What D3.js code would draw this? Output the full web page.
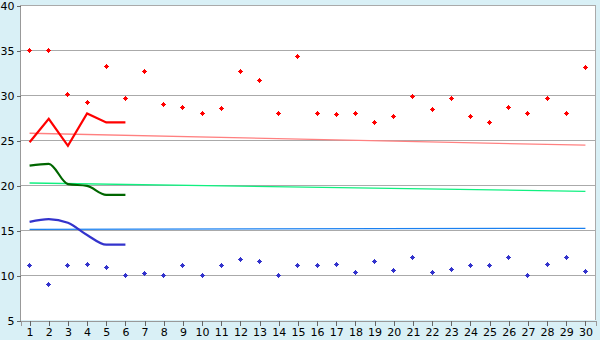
<!DOCTYPE html>
<html><head><meta charset="utf-8">
<script src="https://cdn.jsdelivr.net/npm/d3@7/dist/d3.min.js"></script>
<style>
html,body{margin:0;padding:0;background:#d9f0f6;}
svg{display:block;}
text{font-family:"DejaVu Sans",Verdana,sans-serif;font-size:11px;fill:#000;}
</style></head>
<body>
<svg id="c" width="600" height="340"></svg>
<script>
const categories = d3.range(1, 31);
const yTicks = [5, 10, 15, 20, 25, 30, 35, 40];
const redPoints = [35, 35, 30, 29.2, 33.2, 29.6, 32.6, 29, 28.6, 28, 28.5, 32.6, 31.6, 28, 34.3, 28, 27.85, 28, 27, 27.6, 29.85, 28.4, 29.6, 27.6, 27, 28.6, 28, 29.6, 28, 33];
const bluePoints = [11, 9, 11, 11.2, 10.85, 10, 10.2, 10, 11, 10, 11, 11.75, 11.5, 10, 11, 11, 11.2, 10.3, 11.5, 10.55, 11.95, 10.3, 10.65, 11, 11, 11.95, 10, 11.2, 11.95, 10.4];
const redLine = [24.75, 27.35, 24.35, 27.95, 26.95, 26.95];
const greenLine = [22.15, 22.35, 20.1, 19.9, 18.9, 18.9];
const blueLine = [15.9, 16.2, 15.8, 14.45, 13.37, 13.37];
const pinkTrend = [25.75, 24.42];
const greenTrend = [20.22, 19.3];
const blueTrend = [15.08, 15.19];

const svg = d3.select("#c");
const L = 20, R = 595, T = 5, B = 320;
svg.append("rect").attr("x", L).attr("y", T).attr("width", R - L).attr("height", B - T).attr("fill", "#fff");

const x = d3.scaleBand().domain(categories).range([L, R]);
const cx = d => x(d) + x.bandwidth() / 2;
const y = d3.scaleLinear().domain([5, 40]).range([B, T]);

// grid
svg.append("g").selectAll("line").data(yTicks.filter(v => v > 5)).join("line")
  .attr("x1", L).attr("x2", R).attr("y1", d => y(d) + 0.5).attr("y2", d => y(d) + 0.5)
  .attr("stroke", "#aaaaaa").attr("stroke-width", 1).attr("shape-rendering", "crispEdges");
svg.append("line").attr("x1", R + 0.5).attr("x2", R + 0.5).attr("y1", T).attr("y2", B)
  .attr("stroke", "#aaaaaa").attr("shape-rendering", "crispEdges");

// axes
const ya = svg.append("g").attr("transform", `translate(${L + 0.5},0.5)`)
  .call(d3.axisLeft(y).tickValues(yTicks).tickSize(4).tickPadding(2).tickFormat(d3.format("d")));
const xa = svg.append("g").attr("transform", `translate(0.5,${B + 0.5})`)
  .call(d3.axisBottom(x).tickSize(5).tickPadding(3));
[ya, xa].forEach(a => {
  a.selectAll("path,line").attr("stroke", "#999").attr("shape-rendering", "crispEdges");
  a.selectAll("text").style("font-size", "11px").style("font-family", "DejaVu Sans, Verdana, sans-serif");
});
ya.select(".domain").attr("d", `M0,${B} V${T}`);
ya.selectAll(".tick line").attr("stroke", "#666");
xa.selectAll(".tick line").attr("stroke", "#666");

// trend lines
const trend = (vals, color) => svg.append("line")
  .attr("x1", cx(1)).attr("x2", cx(30)).attr("y1", y(vals[0])).attr("y2", y(vals[1]))
  .attr("stroke", color).attr("stroke-width", 1.3);
trend(pinkTrend, "#ff8080");
trend(greenTrend, "#10f080");
trend(blueTrend, "#1a80f0");

// dark lines
const lineGen = c => d3.line().x((d, i) => cx(categories[i])).y(d => y(d)).curve(c);
svg.append("path").datum(redLine).attr("d", lineGen(d3.curveLinear)).attr("fill", "none").attr("stroke", "#ff0000").attr("stroke-width", 2.2);
svg.append("path").datum(greenLine).attr("d", lineGen(d3.curveMonotoneX)).attr("fill", "none").attr("stroke", "#006600").attr("stroke-width", 2.2);
svg.append("path").datum(blueLine).attr("d", lineGen(d3.curveMonotoneX)).attr("fill", "none").attr("stroke", "#3333cc").attr("stroke-width", 2.2);

// markers: 3x3 centre with 1px arms (5px overall), pixel aligned
const plusMark = { draw(ctx) {
  ctx.moveTo(-1.5, -1.5); ctx.lineTo(1.5, -1.5); ctx.lineTo(1.5, 1.5); ctx.lineTo(-1.5, 1.5); ctx.closePath();
  ctx.moveTo(-2.5, -0.5); ctx.lineTo(2.5, -0.5); ctx.lineTo(2.5, 0.5); ctx.lineTo(-2.5, 0.5); ctx.closePath();
  ctx.moveTo(-0.5, -2.5); ctx.lineTo(0.5, -2.5); ctx.lineTo(0.5, 2.5); ctx.lineTo(-0.5, 2.5); ctx.closePath();
}};
const sym = d3.symbol().type(plusMark);
const pos = (d, i) => `translate(${Math.floor(cx(categories[i])) + 0.5},${Math.floor(y(d)) + 0.5})`;
svg.append("g").selectAll("path").data(redPoints).join("path")
  .attr("transform", pos).attr("d", sym).attr("fill", "#ff0000").attr("shape-rendering", "crispEdges");
svg.append("g").selectAll("path").data(bluePoints).join("path")
  .attr("transform", pos).attr("d", sym).attr("fill", "#3333cc").attr("shape-rendering", "crispEdges");
</script>
</body></html>
